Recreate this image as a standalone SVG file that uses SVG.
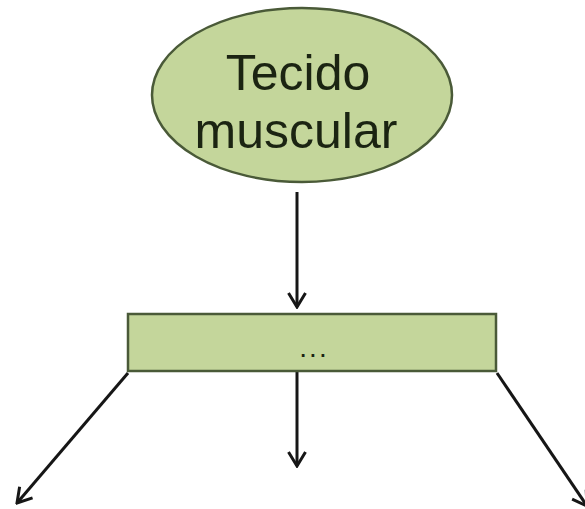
<svg xmlns="http://www.w3.org/2000/svg" width="585" height="509" viewBox="0 0 585 509">
<style>
.node{fill:#c4d69b;stroke:#4a5a38;stroke-width:2.5}
.lbl{font-family:"Liberation Sans",Arial,sans-serif;fill:#1b2412;text-anchor:middle}
.conn{stroke:#161616;stroke-width:3;fill:none;marker-end:url(#arr)}
</style>
<defs>
<marker id="arr" viewBox="0 0 18 20" refX="16" refY="10" markerWidth="18" markerHeight="20" markerUnits="userSpaceOnUse" orient="auto">
<path d="M2,1.5 L16,10 L2,18.5" fill="none" stroke="#161616" stroke-width="3"/>
</marker>
</defs>
<rect width="585" height="509" fill="#ffffff"/>
<g id="connectors">
<line class="conn" x1="297" y1="192" x2="297" y2="307"/>
<line class="conn" x1="297" y1="372" x2="297" y2="466"/>
<line class="conn" x1="128" y1="373" x2="17" y2="503"/>
<line class="conn" x1="497" y1="373" x2="587" y2="506"/>
</g>
<g id="tecido-muscular">
<ellipse class="node" cx="302" cy="95" rx="150" ry="87"/>
<text class="lbl" x="298" y="90" font-size="50">Tecido</text>
<text class="lbl" x="296" y="148" font-size="50">muscular</text>
</g>
<g id="box">
<rect class="node" x="128" y="314" width="368" height="57" stroke="#2e2e2e" stroke-width="2"/>
<text class="lbl" x="314" y="357" font-size="28" letter-spacing="2">...</text>
</g>
</svg>
